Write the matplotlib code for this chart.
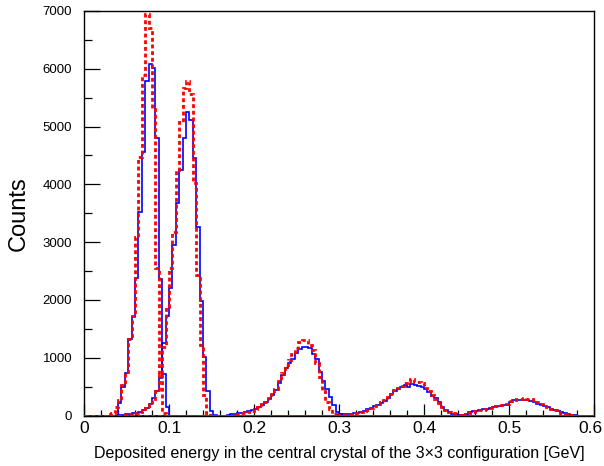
import numpy as np
import matplotlib
matplotlib.use('Agg')
import matplotlib.pyplot as plt
import matplotlib.transforms as mtransforms
from matplotlib.ticker import MultipleLocator

plt.rcParams['font.family'] = ['Liberation Sans', 'DejaVu Sans']

# 150 bins of 0.004 GeV between 0 and 0.6 GeV
bin_width = 0.004
n_bins = 150

x_ticks = [0, 0.1, 0.2, 0.3, 0.4, 0.5, 0.6]
x_tick_labels = ['0', '0.1', '0.2', '0.3', '0.4', '0.5', '0.6']

# each histogram: first non-empty bin edge and the bin contents from there on
blue_1_start = 0.040
blue_1 = [210, 500, 730, 1330, 1700, 2380, 3530, 4560, 5790, 6075,
          6010, 4810, 2360, 720, 150]
red_1_start = 0.028
red_1 = [20, 50, 150, 270, 520, 760, 1320, 1720, 3090, 4480,
         5890, 6950, 6700, 5310, 2550, 700, 40]

blue_2_start = 0.040
blue_2 = [10, 15, 20, 30, 40, 50, 65, 90, 130, 200,
          300, 420, 650, 1250, 1720, 2200, 2950, 3680, 4250, 4800,
          5260, 5110, 4450, 3270, 1990, 1010, 420, 80, 15]
red_2_start = 0.044
red_2 = [10, 15, 25, 35, 45, 60, 85, 125, 190, 290,
         420, 720, 1190, 1880, 2550, 3180, 4250, 5080, 5660, 5780,
         5570, 4020, 2430, 1220, 355, 50]

blue_3_start = 0.168
blue_3 = [15, 25, 30, 38, 50, 60, 75, 95, 118, 150,
          190, 235, 290, 350, 440, 555, 700, 815, 900, 985,
          1075, 1145, 1190, 1180, 1165, 1065, 970, 760, 600, 450,
          325, 180, 65, 20]
red_3_start = 0.176
red_3 = [15, 25, 35, 45, 60, 80, 110, 150, 195, 240,
         300, 370, 460, 590, 740, 870, 960, 1060, 1170, 1270,
         1300, 1300, 1220, 1130, 900, 660, 420, 240, 110, 30]

blue_4_start = 0.296
blue_4 = [10, 18, 22, 28, 30, 45, 50, 62, 85, 105,
          135, 165, 190, 220, 255, 305, 365, 425, 460, 500,
          530, 500, 540, 530, 510, 500, 460, 410, 345, 300,
          235, 155, 100, 55, 30, 20, 15, 10, 5]
red_4_start = 0.300
red_4 = [10, 15, 20, 25, 35, 45, 60, 80, 100, 130,
         160, 195, 235, 270, 320, 380, 445, 480, 515, 560,
         600, 630, 580, 580, 560, 480, 420, 350, 290, 210,
         150, 100, 60, 35, 20, 10]

blue_5_start = 0.440
blue_5 = [10, 15, 20, 60, 70, 85, 95, 105, 120, 130,
          150, 165, 170, 180, 185, 235, 260, 262, 262, 262,
          262, 255, 240, 205, 185, 165, 140, 120, 100, 70,
          60, 35, 25, 12, 5]
red_5_start = 0.444
red_5 = [10, 25, 45, 60, 75, 90, 100, 115, 135, 150,
         160, 175, 190, 200, 250, 275, 280, 285, 295, 290,
         280, 260, 225, 195, 170, 145, 115, 90, 65, 45,
         25, 12, 5]

blue_hists = [(blue_1_start, blue_1), (blue_2_start, blue_2), (blue_3_start, blue_3),
              (blue_4_start, blue_4), (blue_5_start, blue_5)]
red_hists = [(red_1_start, red_1), (red_2_start, red_2), (red_3_start, red_3),
             (red_4_start, red_4), (red_5_start, red_5)]

edges = np.linspace(0, n_bins * bin_width, n_bins + 1)


def full_hist(start, counts):
    h = np.zeros(n_bins)
    i0 = int(round(start / bin_width))
    h[i0:i0 + len(counts)] = counts
    return h


fig = plt.figure(figsize=(6.04, 4.66), dpi=100)
ax = fig.add_axes([84 / 604, 1 - 415.5 / 466, 510 / 604, 404.5 / 466])

for start, counts in blue_hists:
    ax.stairs(full_hist(start, counts), edges, color='#0000ff', lw=1.2, zorder=3)
for start, counts in red_hists:
    ax.stairs(full_hist(start, counts), edges, color='#ff0000', lw=2.0,
              linestyle=(0, (1.4, 1.0)), zorder=4)

ax.set_xlim(0, 0.6)
ax.set_ylim(0, 7000)

ax.set_xticks(x_ticks)
ax.set_xticklabels(x_tick_labels)
ax.xaxis.set_minor_locator(MultipleLocator(0.02))
ax.yaxis.set_major_locator(MultipleLocator(1000))
ax.yaxis.set_minor_locator(MultipleLocator(500))

ax.tick_params(axis='x', which='major', direction='in', length=8.5, width=0.9,
               labelsize=12.5, pad=4, top=False)
ax.tick_params(axis='x', which='minor', direction='in', length=4.3, width=0.9, top=False)
ax.tick_params(axis='y', which='major', direction='in', length=11.5, width=0.9,
               labelsize=9.5, pad=8.5, right=False)
ax.tick_params(axis='y', which='minor', direction='in', length=5.8, width=0.9, right=False)

# nudge the last x label so it stays inside the canvas
last = ax.get_xticklabels()[-1]
last.set_transform(last.get_transform() +
                   mtransforms.ScaledTranslation(-4 / 100, 0, fig.dpi_scale_trans))

for s in ax.spines.values():
    s.set_linewidth(1.0)

ax.set_xlabel('Deposited energy in the central crystal of the 3\u00d73 configuration [GeV]',
              fontsize=11.5, labelpad=7)
ax.set_ylabel('Counts', fontsize=17, labelpad=9)

fig.savefig('out.png', dpi=100)
